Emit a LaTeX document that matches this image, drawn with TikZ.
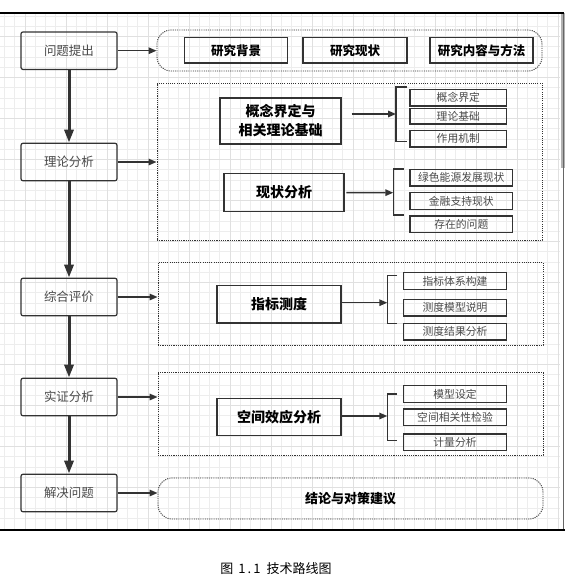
\documentclass[tikz,border=0pt]{standalone}
\usepackage{fontspec}
\setmainfont{Noto Sans CJK SC}
\usetikzlibrary{arrows.meta}
\definecolor{linegray}{HTML}{333333}
\definecolor{textgray}{HTML}{4A4A4A}

\begin{document}
\begin{tikzpicture}[x=1pt,y=-1pt,
    stage/.style={draw=linegray,line width=1.2pt,rounded corners=2pt,minimum width=96pt,
      minimum height=37.5pt,inner sep=0pt,text=textgray,font=\fontsize{12.5}{14}\selectfont},
    frame/.style={draw=linegray,line width=0.9pt,dash pattern=on 1.1pt off 1.1pt,
      minimum width=385pt,inner sep=0pt},
    roundframe/.style={frame,rounded corners=14pt},
    topbox/.style={draw=linegray,line width=1.5pt,minimum width=103pt,minimum height=25.5pt,
      inner sep=0pt,font=\fontsize{12.5}{14}\selectfont\bfseries},
    midbox/.style={draw=linegray,line width=1.3pt,inner sep=0pt,align=center,
      font=\fontsize{14}{19}\selectfont\bfseries},
    subbox/.style={draw=linegray,line width=1.3pt,minimum height=16.6pt,inner sep=0pt,
      text=textgray,font=\fontsize{10.8}{12}\selectfont},
    flow/.style={draw=linegray,line width=3pt,-{Triangle[length=13pt,width=9pt]}},
    link/.style={draw=linegray,line width=1.5pt,-{Triangle[length=8pt,width=6.5pt]}},
    brace/.style={draw=linegray,line width=1.2pt},
    gridminor/.style={draw=black!7,line width=0.6pt},
    gridmajor/.style={draw=black!12,line width=0.6pt}]
  \useasboundingbox (0,0) rectangle (581,582);
  \foreach \i in {0,...,54}
    \draw[gridminor] ({4.3+10.25*\i},14) -- ({4.3+10.25*\i},529);
  \foreach \j in {0,...,49}
    \draw[gridminor] (0,{16+10.25*\j}) -- (560,{16+10.25*\j});
  \foreach \i in {2,6,...,54}
    \draw[gridmajor] ({4.3+10.25*\i},14) -- ({4.3+10.25*\i},529);
  \foreach \j in {2,6,...,49}
    \draw[gridmajor] (0,{16+10.25*\j}) -- (560,{16+10.25*\j});
  \fill[black!30] (560.5,13) rectangle (564.5,168);
  \draw[black!60,line width=1pt] (563.8,13) -- (563.8,530);
  \draw[line width=2pt] (0,12.7) -- (564,12.7);
  \draw[line width=2.5pt] (0,530) -- (565,530);

  \node[stage] (s1) at (69,50.7) {问题提出};
  \node[stage] (s2) at (69,162) {理论分析};
  \node[stage] (s3) at (69,297) {综合评价};
  \node[stage] (s4) at (69,397) {实证分析};
  \node[stage] (s5) at (69,493) {解决问题};

  \node[roundframe,minimum height=41pt] (f1) at (349.5,50.5) {};
  \node[frame,minimum height=157pt] (f2) at (349.5,161.5) {};
  \node[frame,minimum height=83pt] (f3) at (350.5,303.5) {};
  \node[frame,minimum height=82.3pt] (f4) at (350.5,413.8) {};
  \node[roundframe,minimum height=41pt,font=\fontsize{13}{15}\selectfont\bfseries] (f5)
    at (350.5,498.5) {结论与对策建议};

  \draw[flow] (s1) -- (s2);
  \draw[flow] (s2) -- (s3);
  \draw[flow] (s3) -- (s4);
  \draw[flow] (s4) -- (s5);
  \draw[link] (s1.east) -- (s1.east -| f1.west);
  \draw[link] (s2.east) -- (s2.east -| f2.west);
  \draw[link] (s3.east) -- (s3.east -| f3.west);
  \draw[link] (s4.east) -- (s4.east -| f4.west);
  \draw[link] (s5.east) -- (s5.east -| f5.west);

  \node[topbox] (t1) at (236,50.3) {研究背景};
  \node[topbox,minimum width=103.7pt] (t2) at (355,50.3) {研究现状};
  \node[topbox] (t3) at (481.5,50.3) {研究内容与方法};

  \node[midbox,minimum width=121pt,minimum height=46pt] (m1) at (280.5,121)
    {概念界定与\\相关理论基础};
  \node[midbox,minimum width=120pt,minimum height=37.6pt] (m2) at (284,192.5) {现状分析};
  \node[midbox,minimum width=124pt,minimum height=37.7pt] (m3) at (279,304) {指标测度};
  \node[midbox,minimum width=124pt,minimum height=37.4pt] (m4) at (279,417) {空间效应分析};

  \coordinate (b1) at (396,114);
  \coordinate (b2) at (393.3,192.7);
  \coordinate (b3) at (387.3,302.7);
  \coordinate (b4) at (387.3,416);
  \draw[brace] (407,87) -| (b1) |- (407,141.7);
  \draw[brace] (404,169) -| (b2) |- (404,215);
  \draw[brace] (397,275.7) -| (b3) |- (397,323.3);
  \draw[brace] (397,394) -| (b4) |- (397,440.7);
  \draw[link] ([xshift=10pt,yshift=7pt]m1.east) -- (b1);
  \draw[link] ([xshift=1.7pt]m2.east) -- (b2);
  \draw[link] (m3.east |- b3) -- (b3);
  \draw[link] (m4.east |- b4) -- (b4);

  \node[subbox,minimum width=96.7pt] (a1) at (458.3,97.7) {概念界定};
  \node[subbox,minimum width=96.7pt,minimum height=15.7pt] (a2) at (458.3,116.2) {理论基础};
  \node[subbox,minimum width=96.7pt] (a3) at (458.3,138.7) {作用机制};
  \node[subbox,minimum width=102.7pt] (c1) at (461.3,177.7) {绿色能源发展现状};
  \node[subbox,minimum width=102.7pt] (c2) at (461.3,201) {金融支持现状};
  \node[subbox,minimum width=102.7pt] (c3) at (461.3,224.3) {存在的问题};
  \node[subbox,minimum width=103.4pt] (d1) at (455,281) {指标体系构建};
  \node[subbox,minimum width=103.4pt] (d2) at (455,307.7) {测度模型说明};
  \node[subbox,minimum width=103.4pt] (d3) at (455,331.7) {测度结果分析};
  \node[subbox,minimum width=103.4pt] (e1) at (455,394) {模型设定};
  \node[subbox,minimum width=103.4pt] (e2) at (455,417.3) {空间相关性检验};
  \node[subbox,minimum width=103.4pt] (e3) at (455,442.3) {计量分析};

  \node[font=\fontsize{13}{15}\selectfont] (cap) at (276,569)
    {图\hspace{5pt}1\,.\,1\hspace{6pt}技术路线图};
\end{tikzpicture}
\end{document}
